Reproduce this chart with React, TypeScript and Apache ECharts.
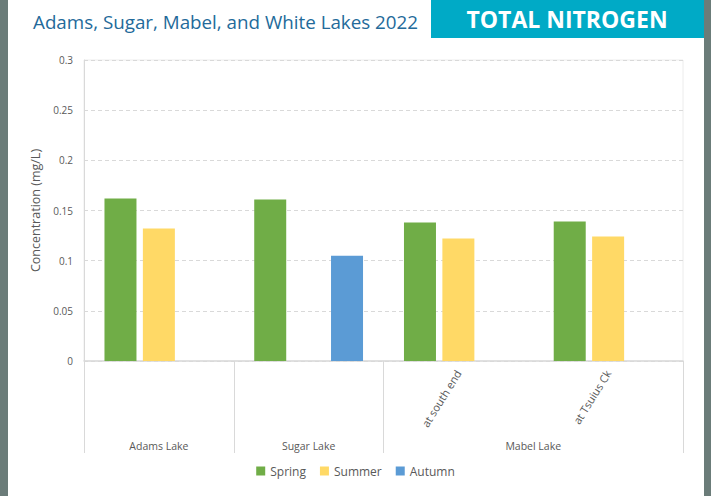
import React, { useEffect, useRef } from "react";
import * as echarts from "echarts";

const categories = ["", "", "at south end", "at Tsuius Ck"];
const spring = [0.162, 0.161, 0.138, 0.139];
const summer = [0.132, null, 0.122, 0.124];
const autumn = [null, 0.105, null, null];
const groupNames = ["Adams Lake", "Sugar Lake", "Mabel Lake"];
const groupBounds = [0, 1, 2, 4];
const yTicks = { min: 0, max: 0.3, interval: 0.05 };

const FONT = "'Open Sans', 'Noto Sans', sans-serif";
const GREY_TEXT = "#595959";
const LINE = "#d9d9d9";

export default function App() {
  const ref = useRef<HTMLDivElement>(null);
  useEffect(() => {
    if (!ref.current) return;
    const chart = echarts.init(ref.current, null, { renderer: "svg" });
    const groupMids = groupNames.map((_, i) => (groupBounds[i] + groupBounds[i + 1]) / 2);
    chart.setOption({
      animation: false,
      backgroundColor: "#ffffff",
      textStyle: { fontFamily: FONT },
      graphic: [
        { type: "rect", x: 0, y: 0, shape: { width: 8, height: 496 }, style: { fill: "#6b7c79" }, z: 100 },
        { type: "rect", x: 704, y: 0, shape: { width: 7, height: 496 }, style: { fill: "#6b7c79" }, z: 100 },
        { type: "rect", x: 431, y: 0, shape: { width: 273, height: 38 }, style: { fill: "#00aac6" }, z: 100 },
        {
          type: "text", x: 33, y: 22, z: 101,
          style: {
            text: "Adams, Sugar, Mabel, and White Lakes 2022",
            fill: "#236a9a",
            font: `18.8px ${FONT}`,
            verticalAlign: "middle",
          },
        },
        {
          type: "text", x: 567, y: 19, z: 101,
          style: {
            text: "TOTAL NITROGEN",
            fill: "#ffffff",
            font: `bold 23px ${FONT}`,
            align: "center",
            verticalAlign: "middle",
          },
        },
      ],
      legend: {
        bottom: 14,
        left: "center",
        itemWidth: 9,
        itemHeight: 9,
        itemGap: 14,
        icon: "rect",
        textStyle: { color: GREY_TEXT, fontSize: 12, fontFamily: FONT },
        data: ["Spring", "Summer", "Autumn"],
      },
      grid: { left: 84, right: 28, top: 60, bottom: 135, show: true, borderColor: "#ececec", borderWidth: 1 },
      xAxis: [
        {
          type: "category",
          data: categories,
          axisLine: { show: true, lineStyle: { color: LINE, width: 1.5 } },
          axisTick: { show: false },
          axisLabel: { rotate: 58, color: GREY_TEXT, fontSize: 11, margin: 10, fontFamily: FONT, interval: 0 },
        },
        {
          type: "value",
          min: groupBounds[0],
          max: groupBounds[groupBounds.length - 1],
          position: "bottom",
          axisLine: { show: false },
          splitLine: { show: false },
          axisTick: { show: true, length: 92, customValues: groupBounds, lineStyle: { color: LINE } },
          axisLabel: {
            customValues: groupMids,
            margin: 79,
            color: GREY_TEXT,
            fontSize: 10.5,
            fontFamily: FONT,
            formatter: (v: number) => groupNames[groupMids.indexOf(v)] ?? "",
          },
        },
      ],
      yAxis: {
        type: "value",
        ...yTicks,
        name: "Concentration (mg/L)",
        nameLocation: "middle",
        nameGap: 33,
        nameTextStyle: { color: GREY_TEXT, fontSize: 12.5, fontFamily: FONT },
        axisLine: { show: true, lineStyle: { color: LINE } },
        axisTick: { show: false },
        axisLabel: { color: GREY_TEXT, fontSize: 10, margin: 11, fontFamily: FONT },
        splitLine: { show: true, lineStyle: { color: LINE, type: [4, 3] } },
      },
      series: [
        { name: "Spring", type: "bar", data: spring, barWidth: 32, barGap: "20%", itemStyle: { color: "#70ad47" } },
        { name: "Summer", type: "bar", data: summer, barWidth: 32, barGap: "20%", itemStyle: { color: "#ffd966" } },
        { name: "Autumn", type: "bar", data: autumn, barWidth: 32, barGap: "20%", itemStyle: { color: "#5b9bd5" } },
      ],
    });
    return () => chart.dispose();
  }, []);
  return <div ref={ref} style={{ position: "fixed", left: 0, top: 0, width: 711, height: 496 }} />;
}
